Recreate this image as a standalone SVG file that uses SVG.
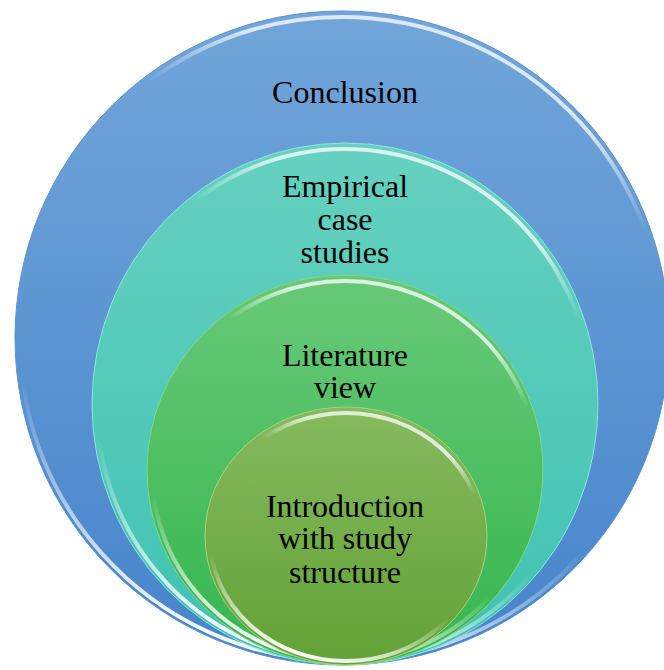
<svg xmlns="http://www.w3.org/2000/svg" width="664" height="670" viewBox="0 0 664 670">
<defs>
<linearGradient id="gBlue" x1="0" y1="0" x2="0" y2="1"><stop offset="0" stop-color="#72a6da"/><stop offset="1" stop-color="#4684cb"/></linearGradient>
<linearGradient id="gTeal" x1="0" y1="0" x2="0" y2="1"><stop offset="0" stop-color="#66d1c0"/><stop offset="1" stop-color="#3fc2b2"/></linearGradient>
<linearGradient id="gGreen" x1="0" y1="0" x2="0" y2="1"><stop offset="0" stop-color="#68c978"/><stop offset="1" stop-color="#35b64e"/></linearGradient>
<linearGradient id="gOlive" x1="0" y1="0" x2="0" y2="1"><stop offset="0" stop-color="#86ba5e"/><stop offset="1" stop-color="#62a236"/></linearGradient>
<linearGradient id="hi" x1="0.3" y1="0" x2="0" y2="1">
<stop offset="0" stop-color="#ffffff" stop-opacity="0.75"/>
<stop offset="0.12" stop-color="#ffffff" stop-opacity="0"/>
<stop offset="0.6" stop-color="#ffffff" stop-opacity="0"/>
<stop offset="0.88" stop-color="#ffffff" stop-opacity="0.95"/>
<stop offset="1" stop-color="#ffffff" stop-opacity="0.2"/>
</linearGradient>
</defs>
<style>
.lbl{font-family:'Liberation Serif','Times New Roman',serif;font-size:32px;fill:#000;text-anchor:middle}
.rim{fill:none;stroke:url(#hi);stroke-width:4}
</style>
<g id="node-conclusion">
<ellipse cx="342" cy="338" rx="327" ry="327" fill="url(#gBlue)" stroke="#5b93d2" stroke-width="1"/>
<ellipse cx="342" cy="339" rx="322" ry="322" class="rim"/>
<text class="lbl" font-family="Liberation Serif, serif" x="345" y="103">Conclusion</text>
</g>
<g id="node-empirical">
<ellipse cx="345" cy="404" rx="253" ry="261" fill="url(#gTeal)" stroke="#8be8dc" stroke-width="1"/>
<ellipse cx="345" cy="405" rx="248" ry="256" class="rim"/>
<text class="lbl" font-family="Liberation Serif, serif" x="345" y="197">Empirical</text>
<text class="lbl" font-family="Liberation Serif, serif" x="345" y="230">case</text>
<text class="lbl" font-family="Liberation Serif, serif" x="345" y="263">studies</text>
</g>
<g id="node-literature">
<ellipse cx="345" cy="470" rx="198" ry="195" fill="url(#gGreen)" stroke="#7fd88c" stroke-width="1"/>
<ellipse cx="345" cy="471" rx="193" ry="190" class="rim"/>
<text class="lbl" font-family="Liberation Serif, serif" x="345" y="366">Literature</text>
<text class="lbl" font-family="Liberation Serif, serif" x="345" y="398">view</text>
</g>
<g id="node-introduction">
<ellipse cx="346" cy="536" rx="141" ry="129" fill="url(#gOlive)" stroke="#a6d47e" stroke-width="1"/>
<ellipse cx="346" cy="537" rx="136" ry="124" class="rim"/>
<text class="lbl" font-family="Liberation Serif, serif" x="345" y="517">Introduction</text>
<text class="lbl" font-family="Liberation Serif, serif" x="345" y="549">with study</text>
<text class="lbl" font-family="Liberation Serif, serif" x="345" y="583">structure</text>
</g>
<g id="connectors"></g>
</svg>
